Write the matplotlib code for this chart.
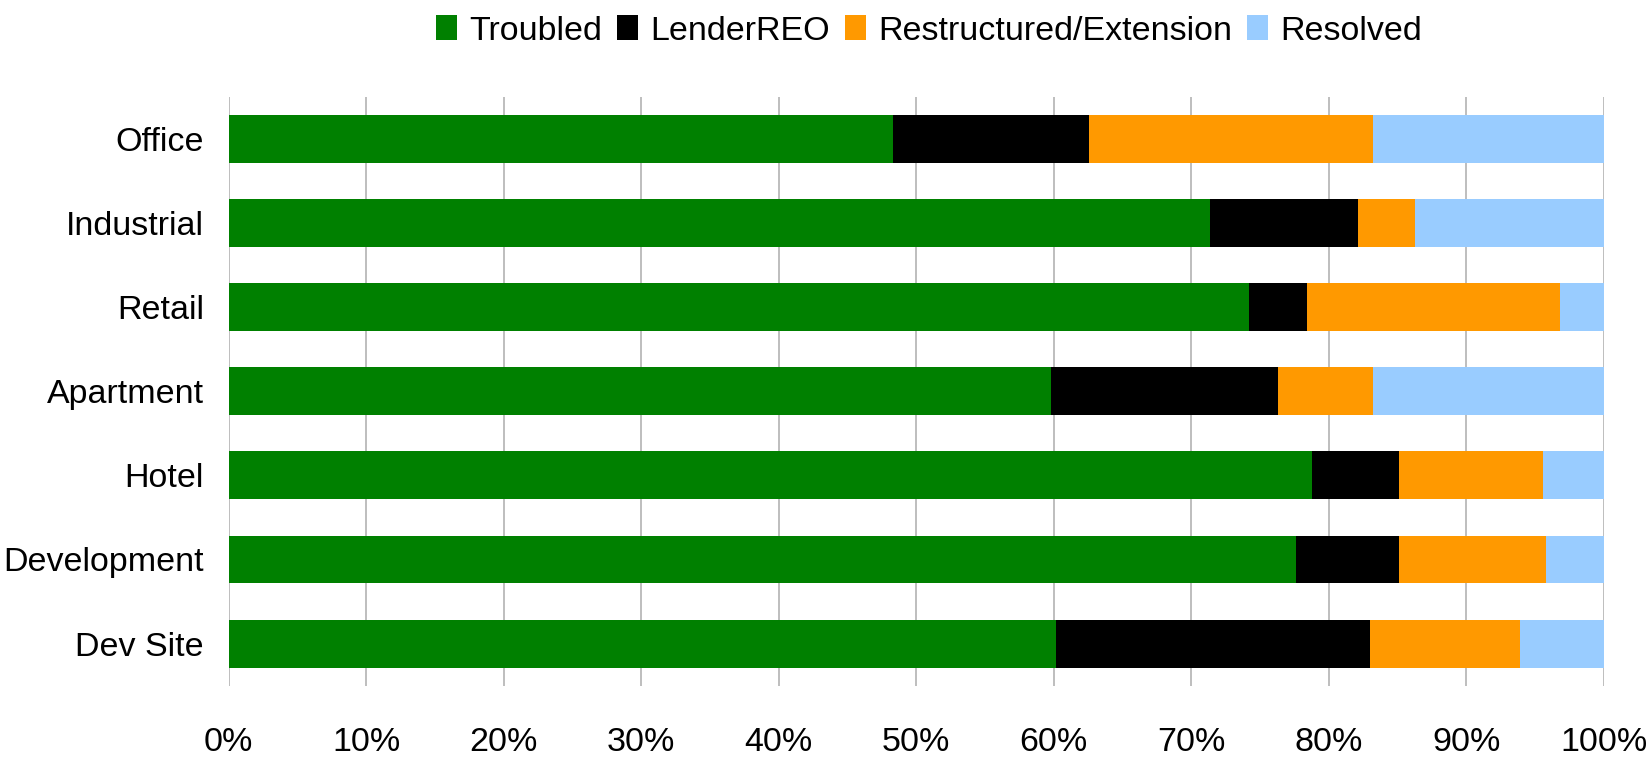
"""
Stacked horizontal bar chart: loan outcome shares by property type.
"""

import matplotlib.pyplot as plt
from matplotlib.ticker import FuncFormatter

# Data (shares in %)
categories = ['Office', 'Industrial', 'Retail', 'Apartment', 'Hotel', 'Development', 'Dev Site']
troubled = [48.3, 71.4, 74.2, 59.8, 78.8, 77.6, 60.2]
lender_reo = [14.3, 10.7, 4.2, 16.5, 6.3, 7.5, 22.8]
restructured = [20.6, 4.2, 18.4, 6.9, 10.5, 10.7, 10.9]
resolved = [16.8, 13.7, 3.2, 16.8, 4.4, 4.2, 6.1]

series = [
    ('Troubled', troubled, '#008000'),
    ('LenderREO', lender_reo, '#000000'),
    ('Restructured/Extension', restructured, '#FF9900'),
    ('Resolved', resolved, '#99CCFF'),
]

plt.rcParams['font.family'] = ['Liberation Sans', 'DejaVu Sans']
FS = 24.5

fig = plt.figure(figsize=(16.52, 7.64), dpi=100)
ax = fig.add_axes([228.8 / 1652, 1 - 685.7 / 764, (1603.6 - 228.8) / 1652, (685.7 - 96.7) / 764])

ypos = list(range(len(categories)))
left = [0.0] * len(categories)
for name, vals, color in series:
    ax.barh(ypos, vals, left=left, height=0.57, color=color, label=name, zorder=2)
    left = [l + v for l, v in zip(left, vals)]

ax.set_xlim(0, 100)
ax.set_ylim(len(categories) - 0.5, -0.5)
ax.set_yticks(ypos)
ax.set_yticklabels(categories)
ax.set_xticks(range(0, 101, 10))
ax.xaxis.set_major_formatter(FuncFormatter(lambda x, _: f'{x:.0f}%'))
ax.tick_params(axis='both', length=0, labelsize=FS)
ax.tick_params(axis='y', pad=18)
ax.tick_params(axis='x', pad=30)
ax.grid(True, axis='x', color='#B3B3B3', linewidth=1.2, zorder=0)
for s in ax.spines.values():
    s.set_visible(False)

fig.legend(loc='center', bbox_to_anchor=(929 / 1652, 1 - 31 / 764), ncol=4,
           frameon=False, fontsize=FS, handlelength=0.62, handleheight=0.72,
           handletextpad=0.35, columnspacing=0.45, borderpad=0)

plt.savefig('out.png', dpi=100)
plt.close()
